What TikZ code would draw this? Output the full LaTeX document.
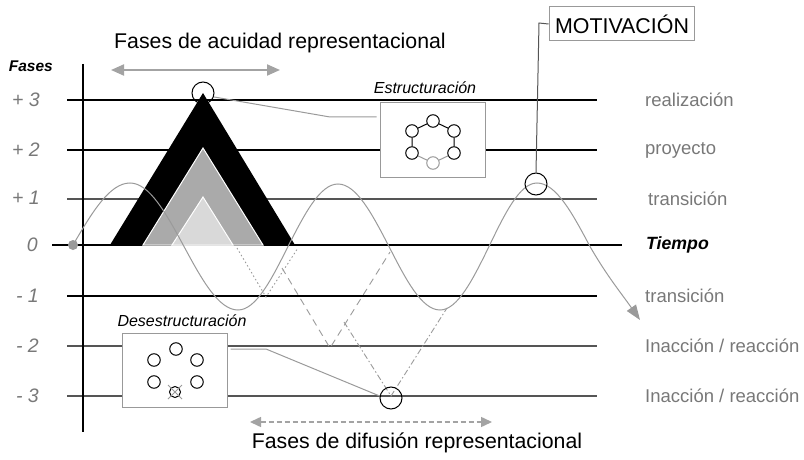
\documentclass[tikz,border=0pt]{standalone}
\usepackage{fontspec}
\setmainfont{Liberation Sans}
\usetikzlibrary{arrows.meta}
\definecolor{lblgray}{HTML}{787878}
\definecolor{curvegray}{HTML}{9A9A9A}
\definecolor{linegray}{HTML}{555555}
\definecolor{midtri}{HTML}{AAAAAA}
\definecolor{lighttri}{HTML}{D9D9D9}
\definecolor{boxgray}{HTML}{999999}
\definecolor{arrgray}{HTML}{A3A3A3}
\tikzset{
  fsz/.style={font=\fontsize{#1}{#1}\selectfont},
  lvl/.style={font=\itshape\fontsize{19.5}{19.5}\selectfont, text=lblgray, anchor=east, inner sep=0},
  rlbl/.style={font=\fontsize{18.5}{18.5}\selectfont, text=lblgray, anchor=west, inner sep=0},
  ring/.style={circle, draw=black, line width=1pt, minimum size=22pt, inner sep=0},
  dot/.style={circle, draw=black, line width=1pt, minimum size=12.5pt, inner sep=0, fill=white},
  gdot/.style={dot, draw=curvegray},
  panel/.style={draw=boxgray, fill=white, line width=1pt, minimum width=105pt, minimum height=74pt, inner sep=0},
  gridline/.style={line width=1.3pt},
}
\begin{document}
\begin{tikzpicture}[x=1pt,y=-1pt]
\useasboundingbox (0,0) rectangle (804,460);

% horizontal phase lines
\foreach \yy/\cc in {100/black,150/black,199/linegray,296/black,346/linegray,396/linegray}
  \draw[gridline, \cc] (67,\yy) -- (597,\yy);
\draw[gridline, black] (52,245) -- (622,245);
% vertical axis
\draw[line width=2pt] (83,64) -- (83,432);

% triangles
\fill[black] (110,245) -- (203,93) -- (295,245) -- cycle;
\filldraw[fill=midtri, draw=white, line width=1pt] (143,245) -- (203,148) -- (263,245) -- cycle;
\filldraw[fill=lighttri, draw=white, line width=1pt] (172,245) -- (203,197) -- (233,245) -- cycle;

% left labels
\node[font=\bfseries\itshape\fontsize{15.5}{15.5}\selectfont, anchor=east, inner sep=0] (fases) at (53,66) {Fases};
\node[lvl] (p3) at (40,100) {+ 3};
\node[lvl] (p2) at (40,150) {+ 2};
\node[lvl] (p1) at (40,198) {+ 1};
\node[lvl] (z0) at (38,245) {0};
\node[lvl] (m1) at (39,296) {- 1};
\node[lvl] (m2) at (39,346) {- 2};
\node[lvl] (m3) at (39,396) {- 3};

% right labels
\node[rlbl] (r1) at (645,100) {realización};
\node[rlbl] (r2) at (645,150) {proyecto};
\node[rlbl] (r3) at (648,199) {transición};
\node[font=\bfseries\itshape\fontsize{17.7}{17.7}\selectfont, anchor=west, inner sep=0] (tiempo) at (646,245) {Tiempo};
\node[rlbl] (r4) at (645,296) {transición};
\node[rlbl] (r5) at (645,346) {Inacción / reacción};
\node[rlbl] (r6) at (645,396) {Inacción / reacción};

% titles
\node[fsz=21.3] (ttop) at (280,43) {Fases de acuidad representacional};
\node[fsz=21.3] (tbot) at (417,443) {Fases de difusión representacional};
\coordinate (ta1) at (111,70); \coordinate (ta2) at (280,70);
\draw[arrgray, line width=2pt, {Triangle[length=13pt,width=11pt]}-{Triangle[length=13pt,width=11pt]}] (ta1) -- (ta2);
\coordinate (ba1) at (250,422); \coordinate (ba2) at (492,422);
\draw[arrgray, line width=1.5pt, dash pattern=on 5pt off 3pt, {Triangle[length=11pt,width=10pt]}-{Triangle[length=11pt,width=10pt]}] (ba1) -- (ba2);

% zigzag dashed lines
\coordinate (v1a) at (237,248); \coordinate (v1b) at (266,297); \coordinate (v1c) at (298,248);
\coordinate (v2a) at (282,268); \coordinate (v2b) at (330,348); \coordinate (v2c) at (390,252);
\coordinate (v3a) at (344,322); \coordinate (v3b) at (391,396); \coordinate (v3c) at (447,308);
\draw[curvegray, line width=0.9pt, dash pattern=on 1.5pt off 2.5pt] (v1a) -- (v1b) -- (v1c);
\draw[curvegray, line width=0.9pt, dash pattern=on 7pt off 5pt] (v2a) -- (v2b) -- (v2c);
\draw[curvegray, line width=0.9pt, dash pattern=on 6pt off 2.5pt on 1.5pt off 2.5pt] (v3a) -- (v3b) -- (v3c);

% Estructuracion panel
\node[panel] (sbox) at (432.5,140) {};
\node[font=\itshape\fontsize{16}{16}\selectfont] (slbl) at (425,88) {Estructuración};
\node[dot] (h1) at (433,121) {};
\node[dot] (h2) at (412,131) {};
\node[dot] (h3) at (454,131) {};
\node[dot] (h4) at (412,153) {};
\node[dot] (h5) at (454,153) {};
\node[gdot] (h6) at (433,163) {};
\draw[line width=1pt] (h1) -- (h2) (h1) -- (h3) (h2) -- (h4) (h3) -- (h5);
\draw[curvegray, line width=1pt] (h4) -- (h6) (h5) -- (h6);

% Desestructuracion panel
\node[panel] (dbox) at (174.5,370) {};
\node[font=\itshape\fontsize{16}{16}\selectfont] (dlbl) at (182,321) {Desestructuración};
\node[dot] (d1) at (176,349) {};
\node[dot] (d2) at (154,360) {};
\node[dot] (d3) at (197,360) {};
\node[dot] (d4) at (154,382) {};
\node[dot] (d5) at (197,382) {};
\node[dot, minimum size=11pt] (d6) at (175,392) {};
\draw[curvegray, line width=0.8pt] ([shift={(-7,-7)}]d6.center) -- ([shift={(7,7)}]d6.center)
  ([shift={(-7,7)}]d6.center) -- ([shift={(7,-7)}]d6.center);

% apex ring and connector
\node[ring] (apex) at (203,93) {};
\coordinate (sbend) at (330,117);
\draw[curvegray, line width=1pt] (apex.-20) -- (sbend) -- ([xshift=-3pt]sbox.west |- sbend);

% bottom ring and connector
\node[ring] (bring) at (391,398) {};
\coordinate (dbend) at (266,349);
\draw[curvegray, line width=1pt] ([xshift=3pt]dbox.east |- dbend) -- (dbend) -- (bring.170);

% sine curve
\node[circle, fill=curvegray, minimum size=10pt, inner sep=0] (start) at (73,245) {};
\coordinate (tip) at (640,320);
\draw[curvegray, line width=1pt, -{Triangle[length=15pt,width=11pt]}]
  (start.center) sin (130,183) cos (184,246.5) sin (238,310) cos (288,246.5)
  sin (338,184) cos (389,246.5) sin (440,310) cos (489,246.5) sin (537,183)
  cos (590,246.5) to[out=-60,in=125] (tip);

% motivation
\node[ring] (mring) at (536,184) {};
\node[draw=boxgray, line width=1pt, fsz=21.4, inner xsep=6pt, minimum height=34pt] (mot) at (622,24) {MOTIVACIÓN};
\coordinate (mk) at (539,23);
\draw[linegray, line width=1pt] (mot.west) -- (mk) -- (mring.north);
\end{tikzpicture}
\end{document}
